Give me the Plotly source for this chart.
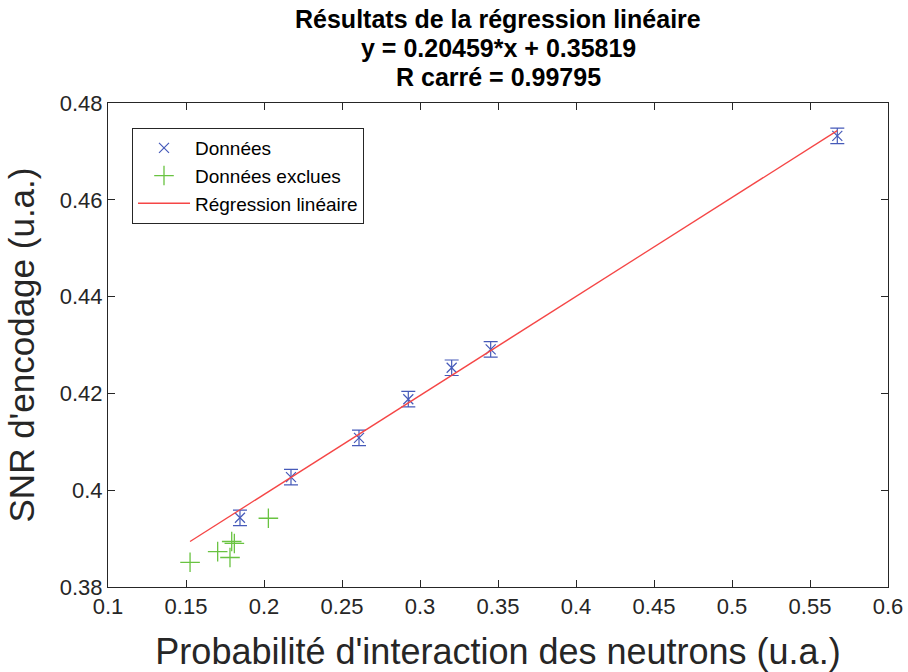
import plotly.graph_objects as go

# Data
x_data = [0.1846, 0.2173, 0.2609, 0.2925, 0.3203, 0.3453, 0.5675]
y_data = [0.3943, 0.4027, 0.4108, 0.4188, 0.4253, 0.4291, 0.4732]
y_err = [0.0016, 0.0016, 0.0016, 0.0016, 0.0016, 0.0016, 0.0016]

x_excl = [0.1526, 0.1703, 0.1782, 0.1793, 0.1810, 0.2028]
y_excl = [0.3851, 0.3873, 0.3861, 0.3894, 0.3890, 0.3942]

slope = 0.20459
intercept = 0.35819
r2 = 0.99795

x_ticks = [0.1, 0.15, 0.2, 0.25, 0.3, 0.35, 0.4, 0.45, 0.5, 0.55, 0.6]
x_tick_labels = ["0.1", "0.15", "0.2", "0.25", "0.3", "0.35", "0.4", "0.45", "0.5", "0.55", "0.6"]
y_ticks = [0.38, 0.40, 0.42, 0.44, 0.46, 0.48]
y_tick_labels = ["0.38", "0.4", "0.42", "0.44", "0.46", "0.48"]

title_lines = [
    "Résultats de la régression linéaire",
    f"y = {slope:.5f}*x + {intercept:.5f}",
    f"R carré = {r2:.5f}",
]

all_x = x_data + x_excl
x_line = [min(all_x), max(all_x)]
y_line = [slope * v + intercept for v in x_line]

BLUE = "rgb(70,90,185)"
GREEN = "rgb(105,195,65)"
RED = "rgb(245,70,70)"
AX = "#262626"
FONT = "Liberation Sans, Arial, sans-serif"

W, H = 908, 672
L, R, T, B = 108, 20, 103, 85
PH = H - T - B
PW = W - L - R

fig = go.Figure()
fig.add_trace(go.Scatter(
    x=x_data, y=y_data, mode="markers", name="Données",
    marker=dict(symbol="x-thin-open", size=10, color=BLUE, line=dict(width=1.2, color=BLUE)),
    error_y=dict(type="data", array=y_err, visible=True, color=BLUE, thickness=1.2, width=7),
))
fig.add_trace(go.Scatter(
    x=x_excl, y=y_excl, mode="markers", name="Données exclues",
    marker=dict(symbol="cross-thin-open", size=14, color=GREEN, line=dict(width=1.3, color=GREEN)),
))
fig.add_trace(go.Scatter(
    x=x_line, y=y_line, mode="lines", name="Régression linéaire",
    line=dict(color=RED, width=1.3),
))

axis_common = dict(
    showgrid=False, zeroline=False, showline=True, linecolor=AX, linewidth=1,
    mirror="ticks", ticks="inside", ticklen=7, tickcolor=AX, tickwidth=1,
    tickfont=dict(family=FONT, size=22, color=AX), automargin=False,
)

annotations = []
for i, line in enumerate(title_lines):
    py = 19 + 29 * i
    annotations.append(dict(
        text=f"<b>{line}</b>", xref="paper", yref="paper",
        x=0.5, y=(H - B - py) / PH, xanchor="center", yanchor="middle",
        showarrow=False, font=dict(family=FONT, size=25, color="black"),
    ))

fig.update_layout(
    width=W, height=H,
    margin=dict(l=L, r=R, t=T, b=B, autoexpand=False),
    paper_bgcolor="white", plot_bgcolor="white",
    font=dict(family=FONT, color=AX),
    annotations=annotations,
    xaxis=dict(
        range=[0.1, 0.6], tickvals=x_ticks, ticktext=x_tick_labels,
        title=dict(text="Probabilité d'interaction des neutrons (u.a.)",
                   font=dict(family=FONT, size=36, color=AX), standoff=22),
        **axis_common,
    ),
    yaxis=dict(
        range=[0.38, 0.48], tickvals=y_ticks, ticktext=y_tick_labels,
        title=dict(text="SNR d'encodage (u.a.)",
                   font=dict(family=FONT, size=35, color=AX), standoff=14),
        **axis_common,
    ),
    legend=dict(
        x=(132 - L) / PW, y=(H - B - 128) / PH, xanchor="left", yanchor="top",
        bgcolor="white", bordercolor=AX, borderwidth=1,
        font=dict(family=FONT, size=19, color="black"),
        tracegroupgap=0, itemwidth=52,
    ),
    showlegend=True,
)

fig.write_html(
    "out.html",
    config={"displayModeBar": False},
    post_script="document.body.style.margin='0';document.body.style.overflow='hidden';",
)
